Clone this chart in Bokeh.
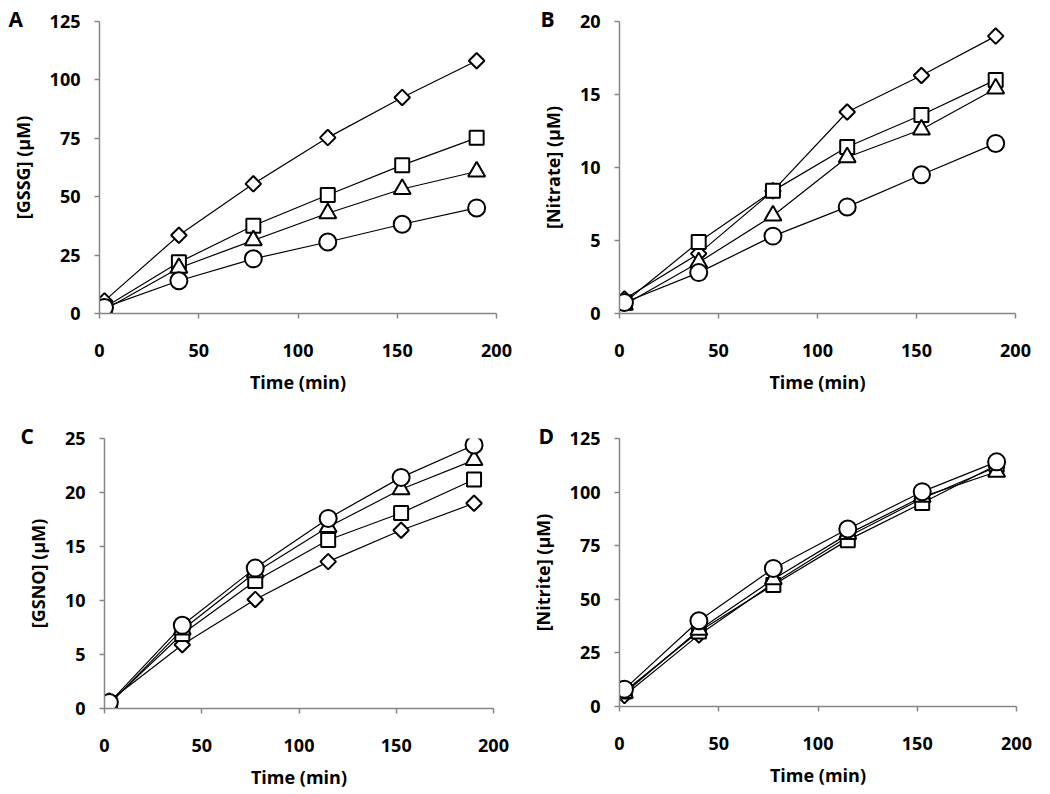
from bokeh.plotting import figure
from bokeh.layouts import column, row
from bokeh.models import Range1d, FixedTicker
from bokeh.embed import file_html
from bokeh.resources import INLINE

time_min = [2.5, 40, 77.5, 115, 152.5, 190]

# Panel A: [GSSG]
gssg_diamond = [5.4, 33.5, 55.5, 75.3, 92.5, 108.2]
gssg_square = [2.6, 21.9, 37.6, 50.7, 63.5, 75.2]
gssg_triangle = [1.6, 19.5, 31.3, 42.9, 53.3, 60.8]
gssg_circle = [2.6, 14.0, 23.4, 30.6, 38.2, 45.2]

# Panel B: [Nitrate]
nitrate_diamond = [1.0, 4.1, 8.4, 13.8, 16.3, 19.0]
nitrate_square = [0.75, 4.9, 8.4, 11.4, 13.6, 16.0]
nitrate_triangle = [0.6, 3.5, 6.7, 10.7, 12.6, 15.4]
nitrate_circle = [0.75, 2.8, 5.3, 7.3, 9.5, 11.65]

# Panel C: [GSNO]
gsno_diamond = [0.7, 5.9, 10.1, 13.6, 16.5, 19.0]
gsno_square = [0.5, 6.9, 11.8, 15.6, 18.1, 21.2]
gsno_triangle = [0.4, 7.3, 12.6, 16.8, 20.3, 23.0]
gsno_circle = [0.55, 7.7, 13.0, 17.6, 21.4, 24.4]

# Panel D: [Nitrite]
nitrite_diamond = [5.1, 33.4, 57.5, 79.2, 97.0, 111.8]
nitrite_square = [7.0, 35.0, 56.7, 77.6, 94.9, 112.6]
nitrite_triangle = [6.2, 35.7, 59.3, 80.4, 97.8, 109.5]
nitrite_circle = [8.1, 40.0, 64.4, 82.8, 100.2, 114.1]

x_ticks = [0, 50, 100, 150, 200]

FONT = "Open Sans"
AXIS_GREY = "#868686"


def make_panel(letter, ylabel, ymax, ystep, series, fw, fh, bl, br, bt, bb, loff):
    p = figure(frame_width=fw, frame_height=fh, output_backend="svg", toolbar_location=None,
               x_range=Range1d(0, 200), y_range=Range1d(0, ymax),
               min_border_left=bl, min_border_right=br,
               min_border_top=bt, min_border_bottom=bb)
    p.outline_line_color = None
    p.xgrid.visible = False
    p.ygrid.visible = False
    p.background_fill_color = "white"

    # panel letter as a left-aligned title pushed out to the left
    p.title.text = letter
    p.title.align = "left"
    p.title.offset = loff
    p.title.standoff = -22
    p.title.text_font = FONT
    p.title.text_font_style = "bold"
    p.title.text_font_size = "21px"
    p.title.text_color = "black"

    p.xaxis.ticker = FixedTicker(ticks=x_ticks)
    p.yaxis.ticker = FixedTicker(ticks=list(range(0, ymax + 1, ystep)))
    for ax in (p.xaxis[0], p.yaxis[0]):
        ax.axis_line_color = AXIS_GREY
        ax.axis_line_width = 1.5
        ax.major_tick_line_color = AXIS_GREY
        ax.major_tick_line_width = 1.5
        ax.major_tick_in = 0
        ax.major_tick_out = 5
        ax.minor_tick_line_color = None
        ax.major_label_text_font = FONT
        ax.major_label_text_font_style = "bold"
        ax.major_label_text_font_size = "18px"
        ax.major_label_text_color = "black"
        ax.axis_label_text_font = FONT
        ax.axis_label_text_font_style = "bold"
        ax.axis_label_text_font_size = "18px"
        ax.axis_label_text_color = "black"
    p.xaxis.axis_label = "Time (min)"
    p.xaxis.major_label_standoff = 25
    p.xaxis.axis_label_standoff = 10
    p.yaxis.axis_label = ylabel
    p.yaxis.major_label_standoff = 14
    p.yaxis.axis_label_standoff = 12

    markers = [("square", 11, 45), ("square", 14, 0), ("triangle", 17, 0), ("circle", 17, 0)]
    for vals in series:
        p.line(time_min, vals, line_color="black", line_width=1.2)
    for vals, (mk, sz, ang) in zip(series, markers):
        p.scatter(time_min, vals, marker=mk, size=sz, angle=ang, angle_units="deg",
                  line_color="black", line_width=2, fill_color="white")
    return p


pa = make_panel("A", "[GSSG] (µM)", 125, 25,
                [gssg_diamond, gssg_square, gssg_triangle, gssg_circle],
                397, 292, 99, 27, 21, 82, -91)
pb = make_panel("B", "[Nitrate] (µM)", 20, 5,
                [nitrate_diamond, nitrate_square, nitrate_triangle, nitrate_circle],
                396, 292, 96, 20, 21, 82, -79)
pc = make_panel("C", "[GSNO] (µM)", 25, 5,
                [gsno_diamond, gsno_square, gsno_triangle, gsno_circle],
                389, 270, 104, 30, 40, 75, -84)
pd = make_panel("D", "[Nitrite] (µM)", 125, 25,
                [nitrite_diamond, nitrite_square, nitrite_triangle, nitrite_circle],
                397, 268, 96, 20, 42, 75, -81)

layout = column(row(pa, pb), row(pc, pd))

open("out.html", "w").write(file_html(layout, INLINE))
